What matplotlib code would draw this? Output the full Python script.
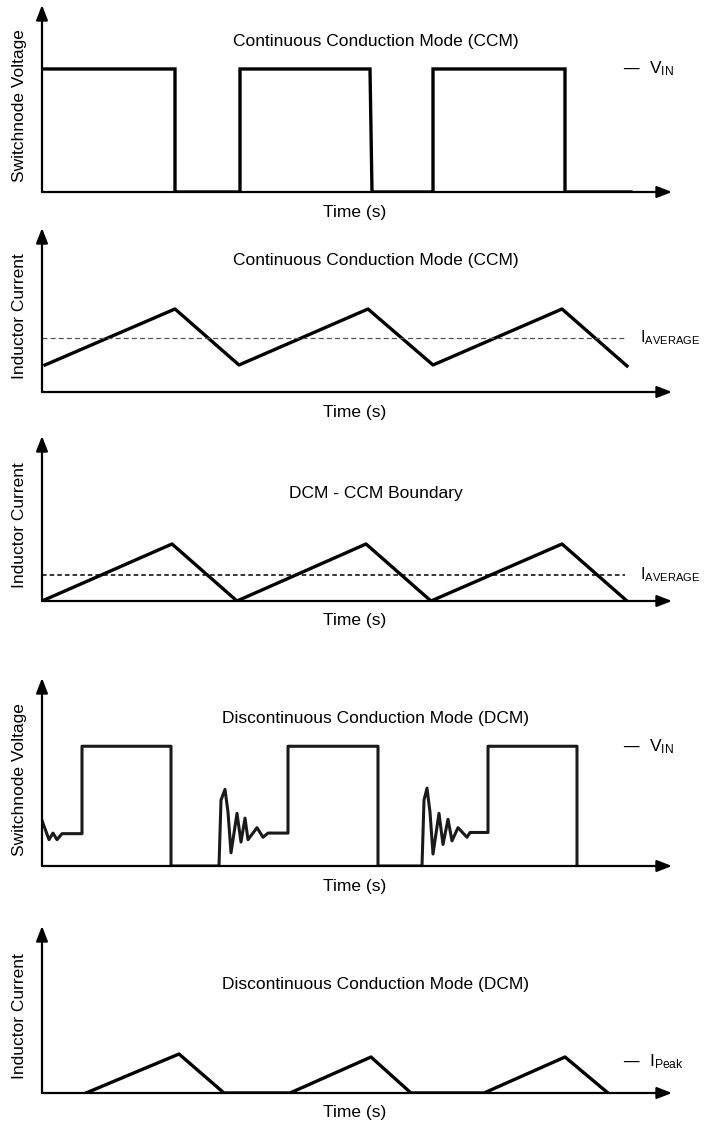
import matplotlib
matplotlib.use("Agg")
import matplotlib.pyplot as plt

plt.rcParams['font.family'] = ['Liberation Sans', 'DejaVu Sans']

# time axis in arbitrary units (one unit ~ one third of a switching period)
# panel 1: CCM switch-node voltage (fraction of V_IN)
sw_ccm_t = [0, 1.33, 1.33, 1.98, 1.98, 3.28, 3.30, 3.91, 3.91, 5.23, 5.23, 5.89]
sw_ccm_v = [1, 1, 0, 0, 1, 1, 0, 0, 1, 1, 0, 0]

# panel 2: CCM inductor current
il_ccm_t = [0.03, 1.33, 1.97, 3.26, 3.91, 5.20, 5.85]
il_ccm_i = [0.27, 0.83, 0.27, 0.83, 0.27, 0.83, 0.26]
il_ccm_avg = 0.54

# panel 3: DCM/CCM boundary inductor current
il_bcm_t = [0, 1.30, 1.95, 3.24, 3.89, 5.20, 5.85]
il_bcm_i = [0, 0.57, 0, 0.57, 0, 0.57, 0]
il_bcm_avg = 0.26

# panel 4: DCM switch-node voltage with ringing (fraction of V_IN)
sw_dcm_t = [0.00, 0.07, 0.11, 0.15, 0.20, 0.40, 0.40, 1.29, 1.29, 1.77,
            1.79, 1.83, 1.86, 1.89, 1.95, 1.99, 2.03, 2.06, 2.15, 2.21, 2.26,
            2.46, 2.46, 3.36, 3.36, 3.80,
            3.82, 3.85, 3.88, 3.91, 3.97, 4.01, 4.06, 4.10, 4.16, 4.25, 4.28,
            4.46, 4.46, 5.35, 5.35]
sw_dcm_v = [0.38, 0.22, 0.275, 0.22, 0.27, 0.27, 1, 1, 0, 0,
            0.55, 0.64, 0.45, 0.11, 0.44, 0.20, 0.40, 0.22, 0.32, 0.24, 0.275,
            0.275, 1, 1, 0, 0,
            0.55, 0.65, 0.45, 0.10, 0.44, 0.18, 0.39, 0.21, 0.32, 0.24, 0.28,
            0.28, 1, 1, 0]

# panel 5: DCM inductor current
il_dcm_t = [0.44, 1.37, 1.82, 2.48, 3.29, 3.69, 4.42, 5.23, 5.66]
il_dcm_i = [0, 0.39, 0, 0, 0.36, 0, 0, 0.36, 0]
i_peak = 0.31

titles = ["Continuous Conduction Mode (CCM)", "Continuous Conduction Mode (CCM)",
          "DCM - CCM Boundary", "Discontinuous Conduction Mode (DCM)",
          "Discontinuous Conduction Mode (DCM)"]
ylabels = ["Switchnode Voltage", "Inductor Current", "Inductor Current",
           "Switchnode Voltage", "Inductor Current"]

W, H = 705, 1131
fig = plt.figure(figsize=(W / 100, H / 100), dpi=100)

# (top, bottom) of each panel in pixels, plus title height fraction and ylim top
panels = [(5, 192, 0.807, 1.52), (228, 392, 0.80, 1.64), (436, 601, 0.65, 1.65),
          (678, 866, 0.787, 1.57), (926, 1093, 0.647, 1.67)]
x0, x1 = 42, 672
fs = 12.5
lw_sig = 2.4

axes = []
for k, (top, bot, ty, ytop) in enumerate(panels):
    ax = fig.add_axes([x0 / W, (H - bot) / H, (x1 - x0) / W, (bot - top) / H])
    ax.set_xlim(0, 6.30)
    ax.set_ylim(0, ytop)
    ax.set_xticks([])
    ax.set_yticks([])
    for s in ax.spines.values():
        s.set_visible(False)
    arrow = dict(arrowstyle='-|>,head_length=0.9,head_width=0.35', lw=1.6,
                 color='k', mutation_scale=10, shrinkA=0, shrinkB=0)
    ax.annotate('', xy=(1, 0), xytext=(0, 0), xycoords='axes fraction',
                arrowprops=arrow, annotation_clip=False)
    ax.annotate('', xy=(0, 1), xytext=(0, 0), xycoords='axes fraction',
                arrowprops=arrow, annotation_clip=False)
    ax.text(0.53, ty, titles[k], transform=ax.transAxes, ha='center',
            va='center', fontsize=fs)
    ax.text(0.497, -20 / (bot - top), "Time (s)", transform=ax.transAxes,
            ha='center', va='center', fontsize=fs)
    ax.text(-22 / (x1 - x0), 0.46, ylabels[k], transform=ax.transAxes,
            ha='center', va='center', rotation=90, fontsize=fs)
    axes.append(ax)

ax1, ax2, ax3, ax4, ax5 = axes

ax1.plot(sw_ccm_t, sw_ccm_v, color='k', lw=lw_sig, solid_joinstyle='miter')
ax1.text(5.80, 1.0, "\u2014  $\\mathregular{V_{IN}}$", fontsize=fs, va='center')

ax2.plot(il_ccm_t, il_ccm_i, color='k', lw=lw_sig)
ax2.plot([0, 5.83], [il_ccm_avg, il_ccm_avg], color='#555555', lw=0.9,
         dashes=(4, 2.5))
ax2.text(5.98, il_ccm_avg, "$\\mathregular{I_{AVERAGE}}$", fontsize=fs - 1,
         va='center')

ax3.plot(il_bcm_t, il_bcm_i, color='k', lw=lw_sig)
ax3.plot([0, 5.83], [il_bcm_avg, il_bcm_avg], color='k', lw=1.1,
         dashes=(3, 2))
ax3.text(5.98, il_bcm_avg, "$\\mathregular{I_{AVERAGE}}$", fontsize=fs - 1,
         va='center')

ax4.plot(sw_dcm_t, sw_dcm_v, color='#1a1a1a', lw=2.2, solid_joinstyle='round')
ax4.text(5.80, 1.0, "\u2014  $\\mathregular{V_{IN}}$", fontsize=fs, va='center')

ax5.plot(il_dcm_t, il_dcm_i, color='k', lw=lw_sig)
ax5.text(5.80, i_peak, "\u2014  $\\mathregular{I_{Peak}}$", fontsize=fs,
         va='center')

fig.savefig("out.png", dpi=100)
